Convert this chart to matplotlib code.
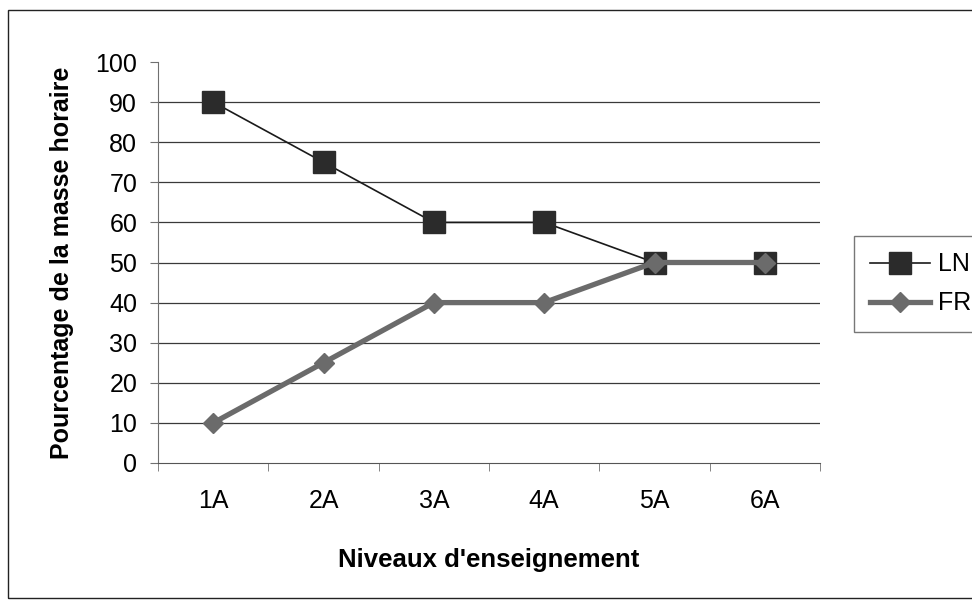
import matplotlib.pyplot as plt
from matplotlib.patches import Rectangle

plt.rcParams['font.family'] = ['Liberation Sans', 'DejaVu Sans']

# Data
niveaux = ["1A", "2A", "3A", "4A", "5A", "6A"]
ln = [90, 75, 60, 60, 50, 50]
fr = [10, 25, 40, 40, 50, 50]

fig = plt.figure(figsize=(9.72, 6.01), dpi=100)
ax = fig.add_axes([158/972, 1 - 463/601, (820-158)/972, (463-62)/601])

x = list(range(len(niveaux)))
ax.plot(x, ln, color="#1a1a1a", lw=1.2, marker="s", markersize=16,
        markerfacecolor="#2b2b2b", markeredgecolor="#2b2b2b", label="LN", zorder=3)
ax.plot(x, fr, color="#6b6b6b", lw=3.8, marker="D", markersize=10,
        markerfacecolor="#6b6b6b", markeredgecolor="#6b6b6b", label="FR", zorder=4)

ax.set_xlim(-0.5, 5.5)
ax.set_ylim(0, 100)
ax.set_yticks(range(0, 101, 10))
ax.set_xticks(x)
ax.set_xticklabels(niveaux)
ax.set_xticks([i - 0.5 for i in range(7)], minor=True)
ax.tick_params(axis="x", which="major", length=0, pad=19, labelsize=18)
ax.tick_params(axis="x", which="minor", length=6, color="#707070", direction="out")
ax.tick_params(axis="y", length=6, color="#707070", labelsize=18, pad=9)

for v in range(10, 100, 10):
    ax.axhline(v, color="#3a3a3a", lw=0.9, zorder=1)

for s in ["top", "right"]:
    ax.spines[s].set_visible(False)
ax.spines["left"].set_color("#707070")
ax.spines["bottom"].set_color("#555555")

ax.set_ylabel("Pourcentage de la masse horaire", fontsize=18, fontweight="bold", labelpad=15)
ax.set_xlabel("Niveaux d'enseignement", fontsize=18.5, fontweight="bold", labelpad=25)

leg = fig.legend(loc="upper left", bbox_to_anchor=(854/972, 1 - 236/601), borderaxespad=0,
                 frameon=True, fancybox=False, edgecolor="#555555", fontsize=18,
                 handlelength=2.4, borderpad=0.65, labelspacing=0.6, handletextpad=0.3)
leg.get_frame().set_linewidth(1)

# outer chart border
fig.patches.append(Rectangle((8/972, 1 - 598/601), 1.0, 588/601, transform=fig.transFigure,
                             fill=False, edgecolor="#222222", lw=1))

fig.savefig("out.png", dpi=100)
